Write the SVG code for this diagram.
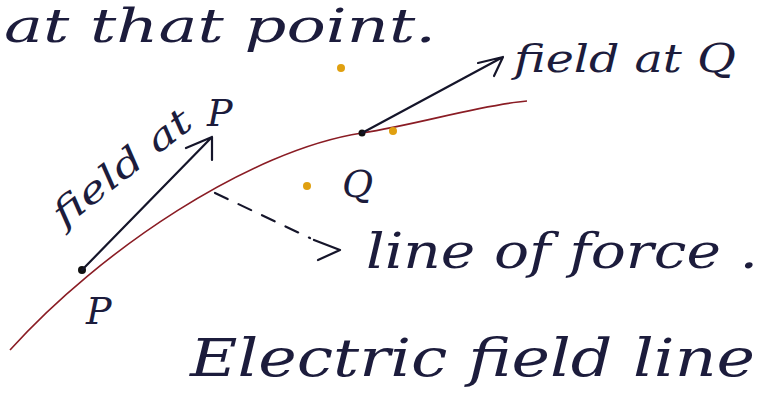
<svg xmlns="http://www.w3.org/2000/svg" width="763" height="406" viewBox="0 0 763 406">
<style>
.t{font-family:"DejaVu Serif","Liberation Serif",serif;font-style:italic;fill:#1c1c3c}
.ink{fill:none;stroke:#15152a;stroke-width:2.2;stroke-linecap:round;stroke-linejoin:round}
.dot{fill:#e0a010}
</style>
<rect width="763" height="406" fill="#ffffff"/>
<text class="t" x="4" y="42" font-size="46" textLength="432" lengthAdjust="spacingAndGlyphs">at that point.</text>
<path d="M10,350 C100,250 250,150 362,133 C420,124 480,105 527,101" fill="none" stroke="#8a1c24" stroke-width="1.6"/>
<circle cx="82" cy="270" r="4" fill="#111"/>
<circle cx="362" cy="133" r="3.5" fill="#111"/>
<path class="ink" d="M82,270 L212,137 M186,148 L212,137 L212,160"/>
<path class="ink" d="M362,133 L503,57 M478,63 L503,57 L494,76"/>
<text class="t" font-size="36" transform="translate(64,228) rotate(-38)" textLength="166" lengthAdjust="spacingAndGlyphs">field at</text>
<text class="t" x="207" y="126" font-size="38">P</text>
<text class="t" x="514" y="72" font-size="40" textLength="222" lengthAdjust="spacingAndGlyphs">field at Q</text>
<text class="t" x="342" y="197" font-size="38">Q</text>
<text class="t" x="86" y="324" font-size="38">P</text>
<path class="ink" d="M215,193 L310,238" stroke-dasharray="14,12" stroke-width="2"/>
<path class="ink" d="M314,240 L340,250 L318,260"/>
<text class="t" x="366" y="268" font-size="48" textLength="392" lengthAdjust="spacingAndGlyphs">line of force .</text>
<text class="t" x="190" y="376" font-size="52" textLength="565" lengthAdjust="spacingAndGlyphs">Electric field line</text>
<circle class="dot" cx="341" cy="68" r="4"/>
<circle class="dot" cx="307" cy="186" r="4"/>
<circle class="dot" cx="393" cy="131" r="4"/>
</svg>
